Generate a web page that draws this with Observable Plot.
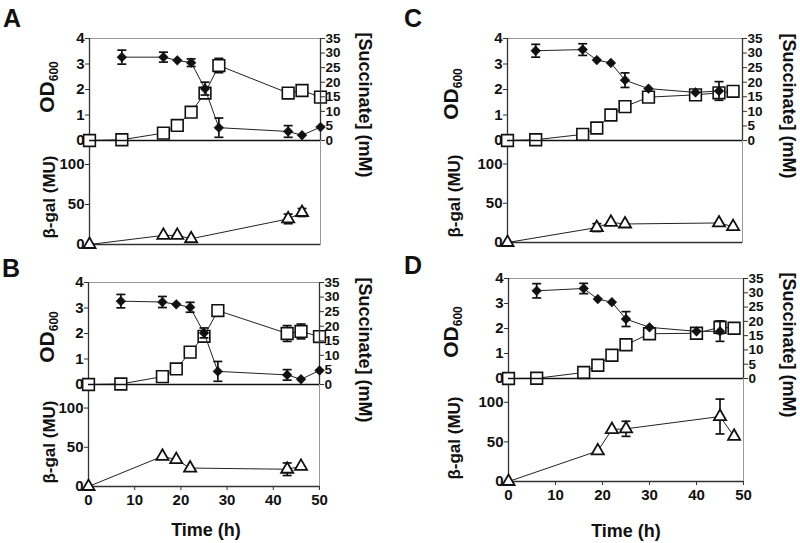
<!DOCTYPE html>
<html><head><meta charset="utf-8">
<script src="https://cdn.jsdelivr.net/npm/d3@7"></script>
<script src="https://cdn.jsdelivr.net/npm/@observablehq/plot@0.6"></script>
<style>
body{margin:0;background:#fff;}
#wrap{position:relative;width:800px;height:543px;overflow:hidden;font-family:"Liberation Sans",Arial,sans-serif;background:#fff;}
#wrap svg{position:absolute;left:0;top:0;}
.lbl{position:absolute;font-weight:bold;white-space:nowrap;color:#111;line-height:1;}
</style></head><body><div id="wrap"></div>
<script>
// ---------- data ----------
const odTicks = [0, 1, 2, 3, 4];
const succTicks = [0, 5, 10, 15, 20, 25, 30, 35];
const galTicks = [0, 50, 100];
const timeTicks = [0, 10, 20, 30, 40, 50];
const timeDomain = [0, 50];
const odDomain = [0, 4];
const succDomain = [0, 35];
const galDomain = [0, 130];

// Panel A
const tA = [0, 7, 16, 19, 22, 25, 28, 43, 46, 50];
const odA = [0, 0.03, 0.29, 0.59, 1.11, 1.86, 2.94, 1.86, 1.96, 1.70];
const odErrA = [null, null, null, null, null, null, 0.28, null, null, null];
const tSuccA = [7, 16, 19, 22, 25, 28, 43, 46, 50];
const succA = [28.6, 28.6, 27.5, 26.7, 17.8, 4.4, 3.1, 1.8, 4.6];
const succErrA = [2.4, 1.7, null, 1.3, 2.2, 3.3, 2.0, null, null];
const tGalA = [0, 16, 19, 22, 43, 46];
const galA = [0, 11.4, 11.4, 7.2, 32, 40];
const galErrA = [null, null, null, null, 6, 5];

// Panel B
const tB = [0, 7, 16, 19, 22, 25, 28, 43, 46, 50];
const odB = [0, 0.02, 0.31, 0.61, 1.27, 1.89, 2.9, 2.0, 2.08, 1.88];
const odErrB = [null, null, null, null, null, null, null, 0.31, 0.29, null];
const tSuccB = [7, 16, 19, 22, 25, 28, 43, 46, 50];
const succB = [28.6, 28.3, 27.5, 26.5, 17.7, 4.5, 3.3, 1.8, 4.8];
const succErrB = [2.3, 1.9, null, 1.7, 1.7, 3.4, 1.8, null, null];
const tGalB = [0, 16, 19, 22, 43, 46];
const galB = [0, 38.5, 34.2, 23.5, 22, 25.6];
const galErrB = [null, null, null, null, 8, null];

// Panel C
const tC = [0, 6, 16, 19, 22, 25, 30, 40, 45, 48];
const odC = [0, 0.03, 0.24, 0.49, 1.0, 1.33, 1.7, 1.79, 1.87, 1.93];
const odErrC = [null, null, null, null, null, null, null, null, null, null];
const tSuccC = [6, 16, 19, 22, 25, 30, 40, 45];
const succC = [30.8, 31.2, 27.6, 26.6, 20.7, 17.8, 16.5, 17.0];
const succErrC = [2.2, 2.0, null, null, 2.5, null, null, 3.2];
const tGalC = [0, 19, 22, 25, 45, 48];
const galC = [0, 19, 25.7, 23.6, 24.9, 20.2];
const galErrC = [null, 5, null, null, null, null];

// Panel D
const tD = [0, 6, 16, 19, 22, 25, 30, 40, 45, 48];
const odD = [0, 0.01, 0.24, 0.53, 0.93, 1.35, 1.79, 1.81, 2.05, 2.01];
const odErrD = [null, null, null, null, 0.06, null, null, null, 0.25, null];
const tSuccD = [6, 16, 19, 22, 25, 30, 40, 45];
const succD = [30.7, 31.5, 27.8, 26.7, 20.8, 17.9, 16.5, 16.5];
const succErrD = [2.5, 1.8, null, null, 2.6, null, null, 3.5];
const tGalD = [0, 19, 22, 25, 45, 48];
const galD = [0, 38.6, 65.6, 66.5, 82, 57];
const galErrD = [null, null, null, 9.5, 22, null];

// ---------- layout ----------
const W = 800, H = 543;
const panels = [
  {name: "A", t: tA, od: odA, odErr: odErrA, ts: tSuccA, succ: succA, succErr: succErrA, tg: tGalA, gal: galA, galErr: galErrA,
   geom: {left: 89, right: 320, top: 38, mid: 140, bottom: 244}, xAxis: false,
   letter: [3, 6], od600: [48, 87], galLbl: [49, 197], succLbl: [365, 105]},
  {name: "B", t: tB, od: odB, odErr: odErrB, ts: tSuccB, succ: succB, succErr: succErrB, tg: tGalB, gal: galB, galErr: galErrB,
   geom: {left: 88, right: 319, top: 282, mid: 384, bottom: 486}, xAxis: true,
   letter: [2, 256], od600: [48, 337], galLbl: [49, 442], succLbl: [365, 350], timeLbl: [206, 530]},
  {name: "C", t: tC, od: odC, odErr: odErrC, ts: tSuccC, succ: succC, succErr: succErrC, tg: tGalC, gal: galC, galErr: galErrC,
   geom: {left: 507, right: 742, top: 38, mid: 140, bottom: 242}, xAxis: false,
   letter: [404, 6], od600: [452, 94], galLbl: [454, 196], succLbl: [789, 106]},
  {name: "D", t: tD, od: odD, odErr: odErrD, ts: tSuccD, succ: succD, succErr: succErrD, tg: tGalD, gal: galD, galErr: galErrD,
   geom: {left: 508, right: 743, top: 278, mid: 378, bottom: 481}, xAxis: true,
   letter: [404, 253], od600: [452, 332], galLbl: [454, 438], succLbl: [789, 345], timeLbl: [626, 531]}
];

const wrap = document.getElementById("wrap");
const capSymbol = {draw(ctx, size) { const h = Math.sqrt(size / Math.PI); ctx.moveTo(-h, 0); ctx.lineTo(h, 0); }};
const style = {fontFamily: "'Liberation Sans', Arial, sans-serif", fontSize: "15px", fontWeight: "bold", color: "#111", background: "transparent", overflow: "visible"};

function errMarks(data) {
  const e = data.filter(d => d.e != null);
  return [
    Plot.ruleX(e, {x: "t", y1: d => d.v - d.e, y2: d => d.v + d.e, stroke: "#111", strokeWidth: 1.7}),
    Plot.dot(e, {x: "t", y: d => d.v + d.e, symbol: capSymbol, r: 4.5, fill: "none", stroke: "#111", strokeWidth: 1.7}),
    Plot.dot(e, {x: "t", y: d => d.v - d.e, symbol: capSymbol, r: 4.5, fill: "none", stroke: "#111", strokeWidth: 1.7})
  ];
}

function addLabel(html, x, y, size, rot) {
  const d = document.createElement("div");
  d.className = "lbl";
  d.innerHTML = html;
  d.style.left = x + "px";
  d.style.top = y + "px";
  d.style.fontSize = size + "px";
  d.style.transform = `translate(-50%,-50%) rotate(${rot}deg)`;
  wrap.appendChild(d);
}

for (const p of panels) {
  const g = p.geom;
  const odData = p.t.map((t, i) => ({t, v: p.od[i], e: p.odErr[i]}));
  const succData = p.ts.map((t, i) => ({t, v: p.succ[i], e: p.succErr[i]}));
  const galData = p.tg.map((t, i) => ({t, v: p.gal[i], e: p.galErr[i]}));
  const base = {width: W, height: H, marginLeft: g.left, marginRight: W - g.right, style};

  // top: OD600 (left axis)
  const topBase = {...base, marginTop: g.top, marginBottom: H - g.mid};
  const odPlot = Plot.plot({
    ...topBase,
    x: {domain: timeDomain, axis: null},
    y: {domain: odDomain, axis: null},
    marks: [
      Plot.frame({stroke: "#9a9a9a", strokeWidth: 1}),
      Plot.ruleX([timeDomain[0]], {stroke: "#333", strokeWidth: 1.3}),
      Plot.axisY(odTicks, {anchor: "left", tickSize: 4, tickPadding: 1, label: null, stroke: "#333", fill: "#111"}),
      Plot.line(odData, {x: "t", y: "v", stroke: "#222", strokeWidth: 1}),
      ...errMarks(odData),
      Plot.dot(odData, {x: "t", y: "v", symbol: "square", r: 6.6, fill: "white", stroke: "#111", strokeWidth: 1.6})
    ]
  });
  // top: succinate (right axis)
  const succPlot = Plot.plot({
    ...topBase,
    x: {domain: timeDomain, axis: null},
    y: {domain: succDomain, axis: null},
    marks: [
      Plot.ruleX([timeDomain[1]], {stroke: "#333", strokeWidth: 1.3}),
      Plot.ruleY([succDomain[0]], {stroke: "#111", strokeWidth: 1.5}),
      Plot.axisY(succTicks, {anchor: "right", tickSize: 4, tickPadding: 1, label: null, stroke: "#333", fill: "#111", fontSize: 13.5}),
      Plot.line(succData, {x: "t", y: "v", stroke: "#222", strokeWidth: 1}),
      ...errMarks(succData),
      Plot.dot(succData, {x: "t", y: "v", symbol: "square", rotate: 45, r: 3.9, fill: "#111", stroke: "#111", strokeWidth: 0.5})
    ]
  });
  // bottom: beta-gal
  const galPlot = Plot.plot({
    ...base, marginTop: g.mid, marginBottom: H - g.bottom,
    x: {domain: timeDomain, axis: null},
    y: {domain: galDomain, axis: null},
    marks: [
      Plot.frame({stroke: "#9a9a9a", strokeWidth: 1}),
      Plot.ruleX([timeDomain[0]], {stroke: "#333", strokeWidth: 1.3}),
      Plot.ruleY([galDomain[0]], {stroke: "#333", strokeWidth: 1.3}),
      Plot.axisY(galTicks, {anchor: "left", tickSize: 4, tickPadding: 1, label: null, stroke: "#333", fill: "#111"}),
      ...(p.xAxis ? [Plot.axisX(timeTicks, {anchor: "bottom", tickSize: 4, tickPadding: 4, label: null, stroke: "#333", fill: "#111"})] : []),
      Plot.line(galData, {x: "t", y: "v", stroke: "#222", strokeWidth: 1}),
      ...errMarks(galData),
      Plot.dot(galData, {x: "t", y: "v", symbol: "triangle2", r: 5.8, fill: "white", stroke: "#111", strokeWidth: 1.8})
    ]
  });
  wrap.appendChild(galPlot);
  wrap.appendChild(odPlot);
  wrap.appendChild(succPlot);

  // text labels
  const L = document.createElement("div");
  L.className = "lbl";
  L.textContent = p.name;
  L.style.left = p.letter[0] + "px";
  L.style.top = p.letter[1] + "px";
  L.style.fontSize = "25px";
  wrap.appendChild(L);
  addLabel('OD<sub style="font-size:12px;vertical-align:-4px">600</sub>', p.od600[0], p.od600[1], 21, -90);
  addLabel('β-gal (MU)', p.galLbl[0], p.galLbl[1], 17, -90);
  addLabel('[Succinate] (mM)', p.succLbl[0], p.succLbl[1], 18, 90);
  if (p.timeLbl) addLabel('Time (h)', p.timeLbl[0], p.timeLbl[1], 18, 0);
}
</script></body></html>
